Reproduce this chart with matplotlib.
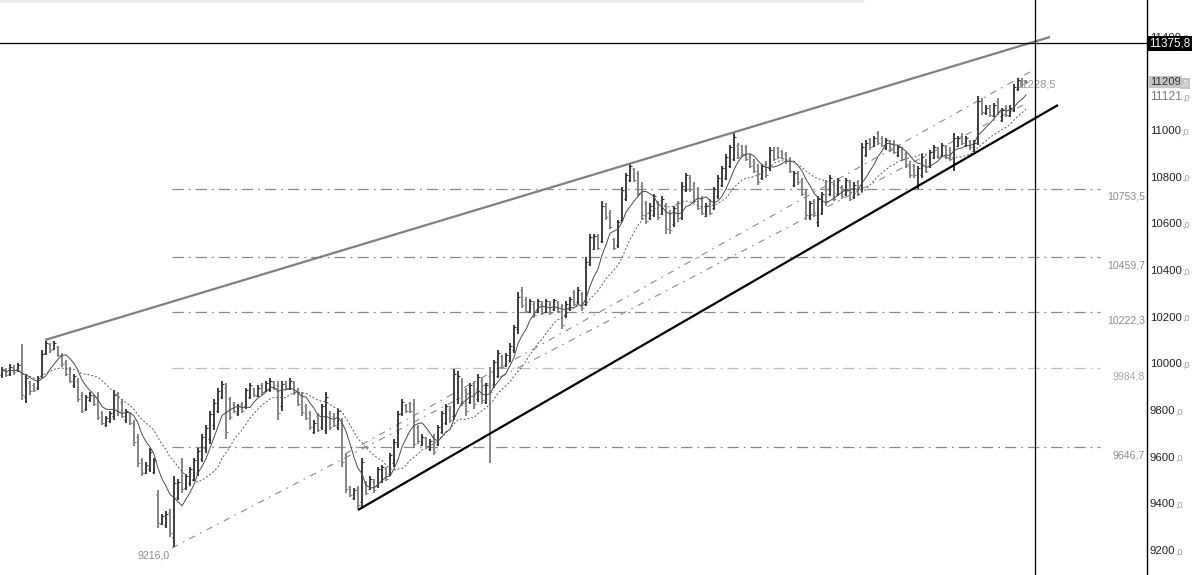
import matplotlib
matplotlib.use("Agg")
import matplotlib.pyplot as plt
import matplotlib.transforms as mtransforms
from matplotlib.patches import FancyBboxPatch
import numpy as np
import pandas as pd

plt.rcParams['font.family'] = ['Liberation Sans', 'DejaVu Sans']

highs = [9990,9985,10000,9995,10005,10085,9960,9930,9920,9950,
         10060,10100,10090,10100,10080,10050,10020,9990,9960,9940,
         9880,9870,9880,9870,9880,9800,9780,9800,9890,9880,
         9850,9810,9790,9760,9700,9600,9580,9640,9600,9460,
         9360,9370,9380,9520,9510,9600,9530,9560,9600,9640,
         9700,9740,9800,9850,9900,9930,9920,9860,9840,9830,
         9840,9900,9920,9900,9910,9920,9930,9940,9930,9930,
         9930,9930,9940,9930,9900,9880,9830,9800,9760,9790,
         9830,9880,9800,9790,9810,9770,9620,9480,9470,9480,
         9600,9500,9520,9510,9560,9570,9560,9620,9680,9800,
         9850,9830,9840,9850,9740,9700,9690,9680,9700,9740,
         9800,9830,9820,9980,9970,9940,9900,9920,9930,9960,
         9940,9920,9990,10020,10060,10040,10050,10090,10170,10310,
         10330,10290,10280,10270,10280,10270,10280,10270,10280,10270,
         10260,10270,10290,10320,10330,10310,10460,10560,10560,10560,
         10700,10690,10660,10540,10620,10760,10820,10860,10840,10830,
         10780,10700,10690,10730,10700,10720,10690,10660,10680,10700,
         10780,10820,10810,10780,10760,10720,10690,10710,10760,10810,
         10850,10900,10940,10990,10950,10940,10940,10900,10880,10860,
         10860,10870,10930,10930,10930,10920,10910,10890,10830,10830,
         10800,10750,10700,10710,10720,10740,10790,10810,10790,10800,
         10770,10800,10790,10780,10790,10950,10960,10970,10980,11000,
         10980,10970,10960,10960,10940,10930,10910,10870,10860,10850,
         10900,10880,10920,10940,10930,10950,10940,10930,10990,10980,
         10990,10980,10960,10960,11150,11140,11110,11110,11120,11140,
         11100,11110,11110,11200,11228,11225,11220]

lows = [9940,9945,9950,9955,9965,9845,9835,9870,9880,9890,
        9940,10040,10050,10060,10030,9990,9950,9920,9900,9840,
        9790,9800,9840,9820,9760,9740,9730,9750,9760,9780,
        9770,9750,9740,9650,9560,9520,9530,9540,9530,9300,
        9310,9300,9260,9216,9420,9450,9460,9480,9500,9520,
        9580,9620,9660,9720,9790,9850,9680,9760,9790,9780,
        9790,9810,9850,9860,9860,9870,9880,9880,9890,9760,
        9800,9890,9890,9870,9820,9780,9760,9720,9700,9710,
        9720,9700,9720,9730,9720,9560,9450,9430,9420,9380,
        9390,9440,9460,9450,9470,9490,9500,9520,9560,9640,
        9780,9790,9790,9640,9660,9650,9640,9630,9610,9650,
        9700,9740,9750,9760,9830,9820,9780,9830,9810,9840,
        9830,9830,9577,9900,9940,9980,9990,10010,10050,10130,
        10240,10220,10220,10200,10220,10210,10220,10210,10230,10220,
        10150,10200,10230,10250,10260,10230,10250,10420,10490,10490,
        10520,10620,10580,10490,10500,10610,10700,10780,10780,10720,
        10620,10600,10620,10630,10620,10640,10560,10560,10590,10610,
        10620,10740,10740,10690,10660,10640,10630,10640,10660,10710,
        10760,10790,10840,10870,10880,10890,10870,10840,10820,10770,
        10790,10800,10830,10870,10880,10880,10860,10820,10760,10770,
        10720,10620,10620,10630,10590,10640,10680,10720,10700,10720,
        10710,10720,10700,10710,10720,10740,10890,10920,10930,10940,
        10930,10920,10910,10900,10890,10870,10840,10800,10800,10750,
        10800,10820,10840,10880,10880,10890,10880,10870,10830,10930,
        10940,10930,10920,10910,10940,11070,11070,11060,11060,11070,
        11040,11060,11060,11080,11170,11190,11200]

opens = [9955,9975,9960,9985,9975,10000,9860,9920,9910,9900,
         9950,10050,10085,10065,10075,10040,10010,9980,9910,9930,
         9870,9810,9845,9865,9860,9790,9740,9755,9780,9870,
         9840,9760,9785,9750,9690,9590,9535,9550,9540,9440,
         9315,9310,9365,9260,9430,9580,9470,9490,9510,9535,
         9595,9640,9680,9740,9800,9860,9900,9850,9835,9790,
         9830,9820,9860,9895,9865,9910,9885,9890,9925,9910,
         9820,9925,9895,9920,9890,9870,9820,9790,9710,9780,
         9730,9720,9790,9780,9730,9750,9600,9475,9425,9470,
         9410,9490,9465,9500,9480,9500,9550,9530,9575,9660,
         9790,9825,9835,9830,9730,9655,9685,9635,9690,9660,
         9710,9750,9810,9780,9850,9930,9890,9840,9920,9850,
         9930,9840,9950,9910,9950,10035,9995,10020,10060,10150,
         10320,10280,10225,10260,10225,10260,10225,10260,10235,10265,
         10250,10205,10235,10310,10265,10300,10260,10430,10495,10550,
         10530,10680,10650,10535,10510,10620,10710,10790,10835,10820,
         10765,10690,10625,10640,10690,10645,10680,10650,10600,10690,
         10630,10745,10800,10770,10750,10710,10635,10700,10670,10720,
         10770,10800,10850,10880,10940,10935,10930,10890,10870,10850,
         10800,10860,10840,10920,10925,10915,10900,10880,10770,10820,
         10790,10740,10630,10700,10610,10650,10780,10730,10780,10730,
         10760,10730,10780,10715,10780,10750,10895,10965,10935,10990,
         10970,10925,10955,10950,10895,10920,10900,10860,10850,10760,
         10810,10870,10850,10885,10925,10895,10930,10920,10850,10935,
         10980,10935,10955,10915,10950,11130,11075,11105,11065,11130,
         11045,11100,11065,11090,11180,11220,11215]

closes = [9980,9955,9990,9965,9995,9870,9940,9885,9890,9940,
          10045,10090,10060,10090,10040,10000,9960,9930,9950,9850,
          9800,9860,9870,9830,9775,9750,9770,9790,9870,9795,
          9780,9800,9750,9665,9575,9535,9570,9625,9590,9320,
          9350,9360,9275,9490,9495,9465,9520,9550,9590,9630,
          9690,9725,9785,9835,9885,9915,9710,9775,9800,9820,
          9800,9890,9910,9870,9900,9880,9920,9930,9900,9790,
          9915,9900,9930,9880,9830,9795,9770,9730,9750,9720,
          9820,9860,9730,9740,9800,9580,9465,9440,9460,9395,
          9580,9450,9510,9460,9550,9560,9510,9610,9665,9785,
          9840,9800,9800,9660,9670,9690,9650,9670,9625,9730,
          9790,9820,9760,9960,9950,9835,9800,9910,9830,9945,
          9845,9910,9880,10010,10050,9990,10040,10080,10160,10290,
          10255,10230,10270,10210,10270,10220,10270,10220,10275,10230,
          10170,10260,10280,10260,10320,10240,10440,10545,10550,10500,
          10680,10630,10590,10500,10610,10745,10810,10850,10790,10735,
          10640,10615,10680,10720,10630,10710,10580,10575,10670,10625,
          10765,10810,10750,10700,10670,10650,10680,10650,10750,10800,
          10840,10890,10930,10975,10890,10900,10880,10850,10830,10780,
          10850,10810,10920,10880,10890,10885,10870,10830,10820,10780,
          10730,10640,10690,10640,10710,10730,10700,10800,10710,10790,
          10720,10790,10710,10770,10730,10930,10950,10930,10970,10950,
          10940,10960,10920,10910,10930,10880,10850,10810,10810,10840,
          10890,10830,10910,10930,10890,10940,10890,10880,10970,10970,
          10950,10970,10930,10950,11130,11080,11100,11070,11110,11080,
          11090,11070,11100,11190,11220,11200,11209.5]

fib_levels = [10753.5, 10459.7, 10222.3, 9984.8, 9646.7]
fib_labels = ["10753,5", "10459,7", "10222,3", "9984,8", "9646,7"]
fib_colors = ["#8a8a8a", "#8a8a8a", "#8a8a8a", "#bdbdbd", "#8a8a8a"]

axis_ticks = [9200, 9400, 9600, 9800, 10000, 10200, 10400, 10600, 10800, 11000, 11400]

upper_trend = ([10.75, 262.0], [10104.3, 11402.9])
lower_trend = ([89.0, 264.0], [9375.7, 11111.4])
channel_a = ([42.5, 256.25], [9213.0, 11120.0])
channel_b = ([85.75, 257.0], [9615.7, 11253.0])

low_label = "9216,0"
high_label = "11228,5"
cross_price = 11375.8
cross_label = "11375,8"
last_price = 11209.5
ma_label_price = 11121.0
cross_x = 258.25

# ---------------------------------------------------------------
W, H = 1194, 575
fig = plt.figure(figsize=(W / 100, H / 100), dpi=100)
ax = fig.add_axes([0, 0, 1147 / W, 1])
ax.set_xlim(-0.5, 286.25)
ax.set_ylim(9097.1, 11561.4)
for s in ['top', 'left', 'bottom']:
    ax.spines[s].set_visible(False)
ax.spines['right'].set_color('black')
ax.spines['right'].set_linewidth(1.0)
ax.set_xticks([])
ax.set_yticks([])

n = len(closes)
idx = np.arange(n)
o = np.array(opens, float)
c = np.array(closes, float)
h = np.array(highs, float)
l = np.array(lows, float)
dark = "#363636"
gray = "#828282"
cols = [dark if c[i] >= o[i] else gray for i in range(n)]

# top faint bar
ax.add_patch(FancyBboxPatch((0.0, 0.995), 865 / 1147, 0.01,
                            boxstyle="round,pad=0,rounding_size=0.004",
                            transform=ax.transAxes, facecolor="#ececec",
                            edgecolor="none", clip_on=False, zorder=0))

# fib lines
for lev, lab, col in zip(fib_levels, fib_labels, fib_colors):
    ax.plot([42.5, 274.5], [lev, lev], color=col, lw=0.9,
            dashes=(9, 4, 1.5, 4), zorder=1)
    ax.text(285.75, lev - 36, lab, ha='right', va='center', fontsize=7.6,
            color="#8c8c8c" if col != "#bdbdbd" else "#a8a8a8", zorder=1)

# dash-dot channel lines
ax.plot(*channel_a, color="#8a8a8a", lw=0.8, dashes=(6, 5, 1.5, 5), zorder=1)
ax.plot(*channel_b, color="#8a8a8a", lw=0.8, dashes=(6, 5, 1.5, 5), zorder=1)

# high label (under bars)
ax.text(263.5, 11201, high_label, ha='right', va='center', fontsize=8,
        color="#9a9a9a", zorder=1)

# bars
ax.vlines(idx, l, h, colors=cols, lw=1.35, zorder=3)
ax.hlines(o, idx - 0.38, idx, colors=cols, lw=0.8, zorder=3)
ax.hlines(c, idx, idx + 0.38, colors=cols, lw=0.8, zorder=3)

# moving averages
cs = pd.Series(c)
ma_fast = cs.rolling(7, min_periods=1).mean()
ma_slow = cs.rolling(16, min_periods=1).mean()
ax.plot(idx, ma_fast, color="#4a4a4a", lw=0.7, zorder=4)
ax.plot(idx, ma_slow, color="#5a5a5a", lw=0.7, dashes=(2, 2), zorder=4)

# trend lines
ax.plot(*upper_trend, color="#808080", lw=1.6, zorder=5, solid_capstyle='butt')
ax.plot(*lower_trend, color="#000000", lw=1.6, zorder=5, solid_capstyle='butt')

# low label
ax.text(42.0, 9178.6, low_label, ha='right', va='center', fontsize=7.6,
        color="#8c8c8c")

# crosshair
ax.axhline(cross_price, color="black", lw=0.9, zorder=6)
ax.axvline(cross_x, color="black", lw=0.9, zorder=6)

# price axis labels
ytr = ax.get_yaxis_transform()
fig.canvas.draw()
renderer = fig.canvas.get_renderer()


def two_part(price, main, frac, c1, c2, fs1=8.2, fs2=6.6, z=7):
    t1 = ax.text(1.0, price, main, transform=mtransforms.offset_copy(
        ytr, fig=fig, x=3, y=0, units='dots'), ha='left', va='center',
        fontsize=fs1, color=c1, zorder=z, clip_on=False)
    wpx = t1.get_window_extent(renderer).width
    ax.text(1.0, price, frac, transform=mtransforms.offset_copy(
        ytr, fig=fig, x=3 + wpx, y=-1, units='dots'), ha='left',
        va='center', fontsize=fs2, color=c2, zorder=z, clip_on=False)


for tk in axis_ticks:
    two_part(tk, f"{tk}", ",0", "#222222", "#9a9a9a")

# black crosshair price box
ax.text(1.0, cross_price, cross_label, transform=mtransforms.offset_copy(
    ytr, fig=fig, x=2, y=0, units='dots'), ha='left', va='center',
    fontsize=8.4, color="white", zorder=9, clip_on=False,
    bbox=dict(boxstyle="square,pad=0.12", facecolor="black", edgecolor="none"))

# last price box
t1 = ax.text(1.0, last_price, "11209", transform=mtransforms.offset_copy(
    ytr, fig=fig, x=3, y=0, units='dots'), ha='left', va='center',
    fontsize=8.2, color="#333333", zorder=9, clip_on=False,
    bbox=dict(boxstyle="square,pad=0.12", facecolor="#c4c4c4", edgecolor="none"))
wpx = t1.get_window_extent(renderer).width
ax.text(1.0, last_price, ",5", transform=mtransforms.offset_copy(
    ytr, fig=fig, x=3 + wpx, y=-1, units='dots'), ha='left', va='center',
    fontsize=6.6, color="#eeeeee", zorder=9, clip_on=False,
    bbox=dict(boxstyle="square,pad=0.12", facecolor="#c4c4c4", edgecolor="none"))

two_part(11146, "11121", ",0", "#7a7a7a", "#9a9a9a", fs1=8.8)

fig.savefig("out.png", dpi=100)
